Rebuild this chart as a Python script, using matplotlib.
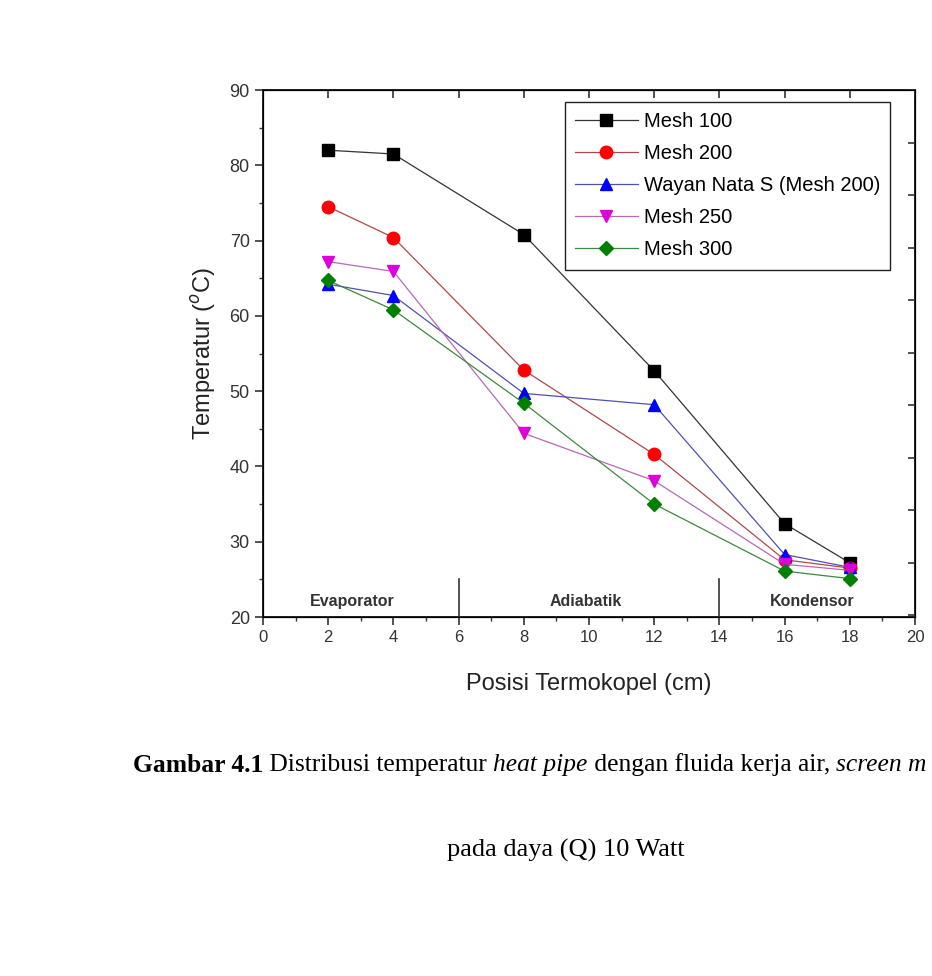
import numpy as np
import matplotlib.pyplot as plt
from matplotlib.ticker import MultipleLocator

# data
posisi = [2, 4, 8, 12, 16, 18]
mesh_100 = [82.0, 81.5, 70.8, 52.7, 32.4, 27.2]
mesh_200 = [74.5, 70.4, 52.8, 41.6, 27.6, 26.5]
wayan_200 = [64.2, 62.7, 49.7, 48.2, 28.3, 26.6]
mesh_250 = [67.2, 65.9, 44.4, 38.1, 27.0, 26.2]
mesh_300 = [64.7, 60.8, 48.4, 35.0, 26.1, 25.1]

series_labels = ["Mesh 100", "Mesh 200", "Wayan Nata S (Mesh 200)", "Mesh 250", "Mesh 300"]
zone_names = ["Evaporator", "Adiabatik", "Kondensor"]
zone_centers = [2.75, 9.9, 16.85]
zone_bounds = [6, 14]

# caption pieces: (text, weight, style) -- the reference is cut at "screen m"
caption_1 = [("Gambar 4.1", "bold", "normal"),
             (" Distribusi temperatur ", "normal", "normal"),
             ("heat pipe", "normal", "italic"),
             (" dengan fluida kerja air, ", "normal", "normal"),
             ("screen m", "normal", "italic")]
caption_2 = "pada daya (Q) 10 Watt"

plt.rcParams['font.family'] = ['Liberation Sans', 'DejaVu Sans']

W, H = 932, 976
fig = plt.figure(figsize=(W / 100, H / 100), dpi=100)
ax = fig.add_axes([263 / W, 1 - 617 / H, (915 - 263) / W, (617 - 90) / H])

# series style: (marker colour, line colour, marker, size)
styles = [
    ("#000000", "#333333", "s", 8),
    ("#ff0000", "#b04848", "o", 9),
    ("#0000ff", "#5050b0", "^", 9),
    ("#dd00dd", "#b868b8", "v", 9),
    ("#008000", "#3c8a3c", "D", 7),
]
for yvals, label, (mc, lc, mk, ms) in zip(
    [mesh_100, mesh_200, wayan_200, mesh_250, mesh_300], series_labels, styles
):
    ax.plot(posisi, yvals, color=lc, linewidth=0.9, marker=mk, markersize=ms,
            markerfacecolor=mc, markeredgecolor=mc, label=label)

# zone separators and names
for xb in zone_bounds:
    ax.plot([xb, xb], [20, 25], color="#333333", linewidth=1.2)
for name, xc in zip(zone_names, zone_centers):
    ax.text(xc, 22.1, name, ha="center", va="center", fontsize=11.5,
            fontweight="bold", color="#333333")

ax.set_xlim(0, 20)
ax.set_ylim(20, 90)
ax.xaxis.set_major_locator(MultipleLocator(2))
ax.xaxis.set_minor_locator(MultipleLocator(1))
ax.yaxis.set_major_locator(MultipleLocator(10))
ax.yaxis.set_minor_locator(MultipleLocator(5))
ax.tick_params(axis="x", which="major", labelsize=12, length=6, width=1.2,
               colors="#333333")
ax.tick_params(axis="x", which="minor", length=3, width=1, colors="#333333")
ax.tick_params(axis="y", which="major", labelsize=13, length=6, width=1.2,
               colors="#333333")
ax.tick_params(axis="y", which="minor", length=3, width=1, colors="#333333")
for sp in ax.spines.values():
    sp.set_linewidth(1.4)
    sp.set_color("#222222")

# right side ticks of the original (different spacing, no labels)
ax2 = ax.twinx()
ax2.set_ylim(-0.03, 10.0)
ax2.yaxis.set_major_locator(MultipleLocator(1))
ax2.tick_params(axis="y", direction="in", length=5, width=1.2, labelright=False,
                colors="#333333")

# top ticks pointing inward
ax3 = ax.twiny()
ax3.set_xlim(0, 20)
ax3.xaxis.set_major_locator(MultipleLocator(2))
ax3.tick_params(axis="x", direction="in", length=6, width=1.2, labeltop=False,
                colors="#333333")

ax.set_xlabel("Posisi Termokopel (cm)", fontsize=17, color="#222222", labelpad=20)
ax.set_ylabel("Temperatur ($^{o}$C)", fontsize=17, color="#222222", labelpad=8)

leg = ax.legend(loc="upper left", bbox_to_anchor=(565 / W, 1 - 102 / H),
                bbox_transform=fig.transFigure, fontsize=14.5, frameon=True,
                fancybox=False, edgecolor="#222222", handlelength=3.1,
                handletextpad=0.3, labelspacing=0.65, borderpad=0.5,
                borderaxespad=0, framealpha=1)
leg.get_frame().set_linewidth(1.0)
leg.set_zorder(10)

# caption below the chart, pieces placed one after another
renderer = fig.canvas.get_renderer()
x_px = 133
for txt, wt, st in caption_1:
    t = fig.text(x_px / W, 1 - 765 / H, txt, fontsize=18.4, va="center", ha="left",
                 family="Liberation Serif", fontweight=wt, fontstyle=st)
    x_px = t.get_window_extent(renderer).x1
fig.text(447 / W, 1 - 850 / H, caption_2, fontsize=19, va="center", ha="left",
         family="Liberation Serif")

plt.savefig("out.png", dpi=100)
